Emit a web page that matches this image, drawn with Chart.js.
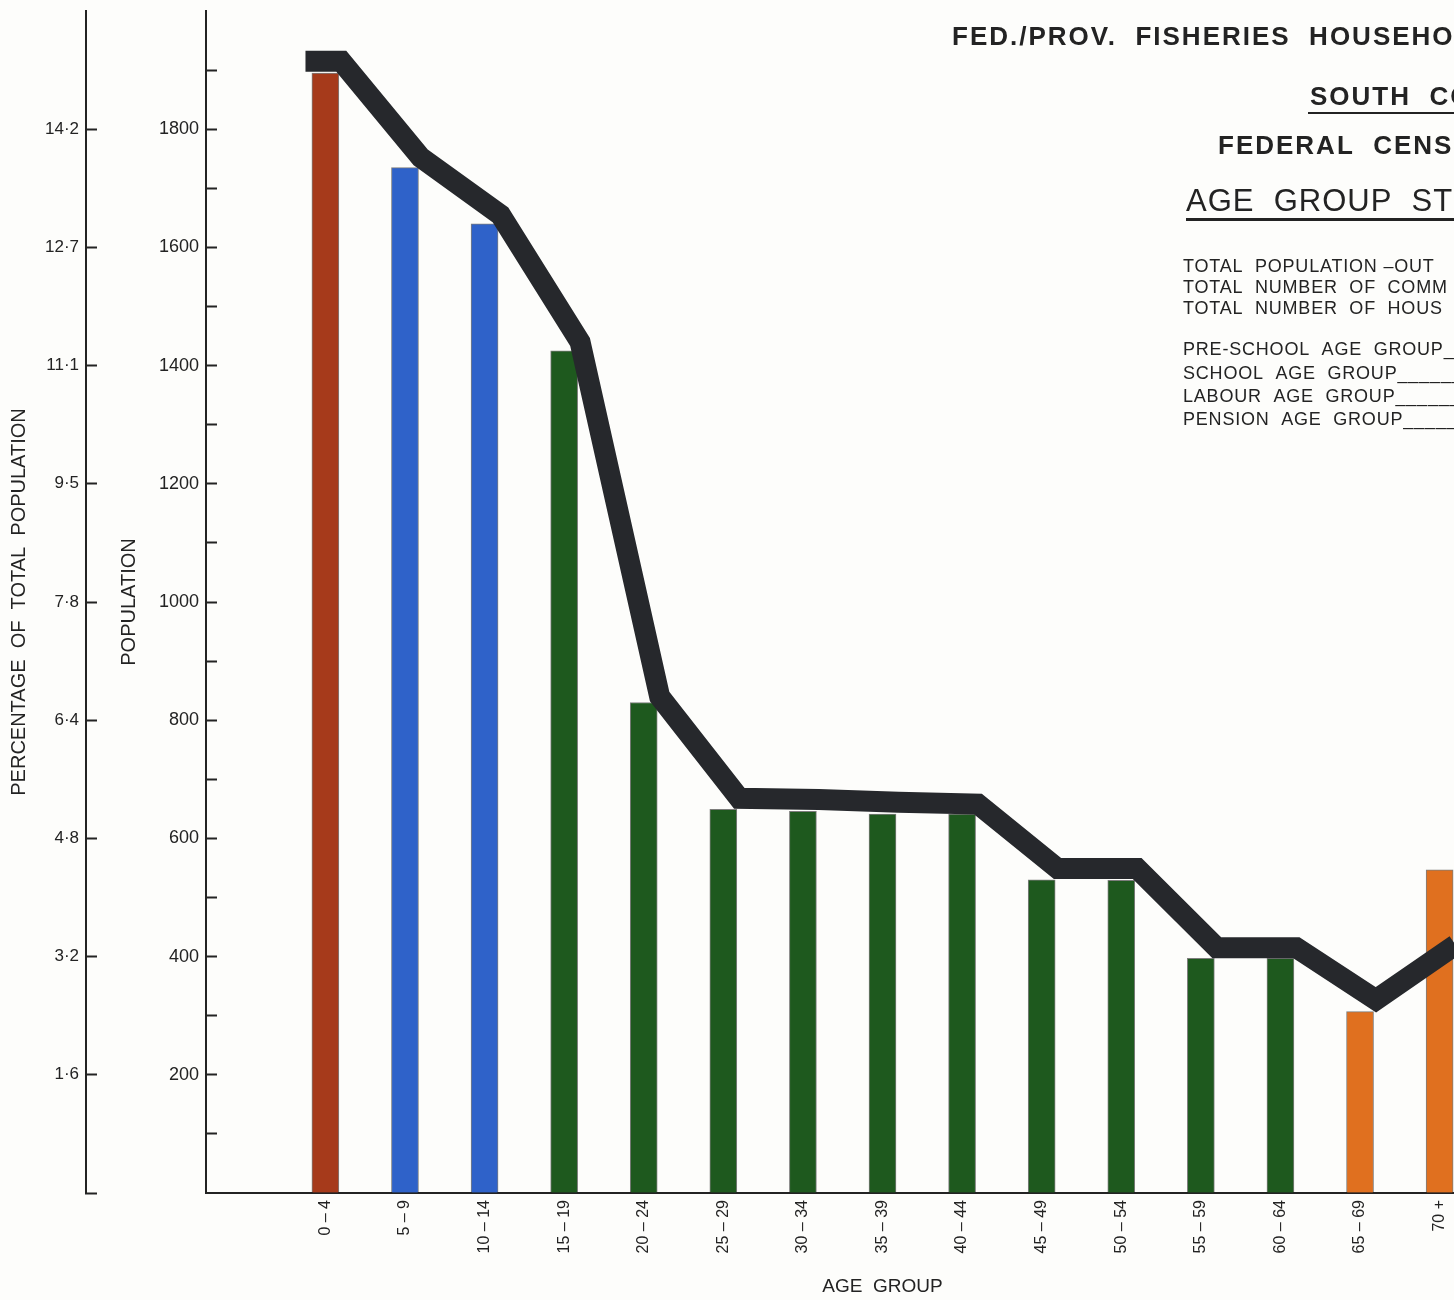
<!DOCTYPE html>
<html>
<head>
<meta charset="utf-8">
<title>Age Group Structure</title>
<script src="https://cdn.jsdelivr.net/npm/chart.js@4.4.1/dist/chart.umd.min.js"></script>
<style>
  html, body { margin: 0; padding: 0; background: #fdfdfb; overflow: hidden; }
  #wrap { width: 1600px; height: 1300px; }
</style>
</head>
<body>
<div id="wrap"><canvas id="ageChart" width="1600" height="1300"></canvas></div>
<script>
// Age group chart (population by 5-year group, with percentage scale)

const ageGroups = ['0 – 4', '5 – 9', '10 – 14', '15 – 19', '20 – 24', '25 – 29', '30 – 34',
  '35 – 39', '40 – 44', '45 – 49', '50 – 54', '55 – 59', '60 – 64', '65 – 69', '70 +'];
const population = [1895, 1735, 1640, 1425, 830, 649, 646, 641, 641, 530, 529, 397, 397, 307, 547];
const trendLine = [1915, 1752, 1655, 1440, 840, 668, 666, 661, 658, 549, 549, 415, 415, 327, 420];
const groupType = ['pre', 'school', 'school', 'labour', 'labour', 'labour', 'labour', 'labour',
  'labour', 'labour', 'labour', 'labour', 'labour', 'pension', 'pension'];
const popTickValues = [200, 400, 600, 800, 1000, 1200, 1400, 1600, 1800];
const pctTickLabels = ['1·6', '3·2', '4·8', '6·4', '7·8', '9·5', '11·1', '12·7', '14·2'];

const INK = '#232323';
const FONT = "'Liberation Sans', Arial, sans-serif";
const groupColors = {
  pre: '#a63a1b',
  school: '#2f62c9',
  labour: '#1e591e',
  pension: '#e0701f'
};

const BAR_HALF = 0.2;   // line vertices sit at the right shoulder of each bar
const LINE_START = 0.25;

const trendPoints = [{ x: -LINE_START, y: trendLine[0] }]
  .concat(trendLine.map((v, i) => ({ x: i + BAR_HALF, y: v })));

// no extra label padding above/below the vertical axes
const noVerticalPadding = (scale) => {
  scale.paddingTop = 0;
  scale.paddingBottom = 0;
};

// header lettering in the top right (cropped in the original)
const headerPlugin = {
  id: 'header',
  afterDraw(chart) {
    const ctx = chart.ctx;
    ctx.save();
    ctx.fillStyle = INK;
    ctx.textAlign = 'left';
    ctx.textBaseline = 'alphabetic';

    if ('letterSpacing' in ctx) ctx.letterSpacing = '2px';
    ctx.font = 'bold 26px ' + FONT;
    ctx.fillText('FED./PROV.  FISHERIES  HOUSEHO', 952, 45);
    ctx.fillText('SOUTH  CO', 1310, 105);
    ctx.fillRect(1308, 112, 160, 2);
    ctx.fillText('FEDERAL  CENS', 1218, 154);

    if ('letterSpacing' in ctx) ctx.letterSpacing = '1px';
    ctx.font = '31px ' + FONT;
    ctx.fillText('AGE  GROUP  ST', 1186, 211);
    ctx.fillRect(1186, 218, 280, 3);

    if ('letterSpacing' in ctx) ctx.letterSpacing = '0.8px';
    ctx.font = '18px ' + FONT;
    ctx.fillText('TOTAL  POPULATION –OUT', 1183, 272);
    ctx.fillText('TOTAL  NUMBER  OF  COMM', 1183, 293);
    ctx.fillText('TOTAL  NUMBER  OF  HOUS', 1183, 314);
    ctx.fillText('PRE-SCHOOL  AGE  GROUP________', 1183, 355);
    ctx.fillText('SCHOOL  AGE  GROUP____________', 1183, 379);
    ctx.fillText('LABOUR  AGE  GROUP____________', 1183, 402);
    ctx.fillText('PENSION  AGE  GROUP___________', 1183, 425);
    ctx.restore();
  }
};

const ctx = document.getElementById('ageChart').getContext('2d');

new Chart(ctx, {
  data: {
    datasets: [
      {
        type: 'line',
        label: 'Trend',
        data: trendPoints,
        borderColor: '#26282c',
        borderWidth: 21,
        borderJoinStyle: 'miter',
        borderCapStyle: 'butt',
        pointRadius: 0,
        tension: 0,
        yAxisID: 'y',
        order: 0
      },
      {
        type: 'bar',
        label: 'Population',
        data: population.map((v, i) => ({ x: i, y: v })),
        backgroundColor: groupType.map(g => groupColors[g]),
        borderColor: 'rgba(20, 20, 20, 0.55)',
        borderWidth: 1,
        barThickness: 27,
        yAxisID: 'y',
        order: 1
      }
    ]
  },
  plugins: [headerPlugin],
  options: {
    responsive: false,
    animation: false,
    layout: { padding: { top: 11, right: 41, bottom: 0, left: 0 } },
    plugins: {
      legend: { display: false },
      tooltip: { enabled: false }
    },
    scales: {
      x: {
        type: 'linear',
        min: -1.5,
        max: 15.5,
        offset: false,
        afterBuildTicks: (scale) => { scale.ticks = ageGroups.map((g, i) => ({ value: i })); },
        afterFit: (scale) => {
          scale.height = 107;
          scale.paddingLeft = 0;
          scale.paddingRight = 0;
        },
        grid: { display: false, offset: false, drawTicks: false },
        border: { display: true, color: INK, width: 2 },
        ticks: {
          autoSkip: false,
          minRotation: 90,
          maxRotation: 90,
          padding: 7,
          color: INK,
          font: { family: FONT, size: 16 },
          callback: (value) => ageGroups[value] || ''
        },
        title: {
          display: true,
          text: 'AGE  GROUP',
          color: INK,
          font: { family: FONT, size: 19 },
          padding: { top: 0, bottom: 2 }
        }
      },
      y: {
        type: 'linear',
        position: 'left',
        weight: 0,
        min: 0,
        max: 2000,
        afterFit: (scale) => {
          scale.width = 120;
          noVerticalPadding(scale);
        },
        grid: {
          display: true,
          drawOnChartArea: false,
          drawTicks: true,
          tickLength: -11,
          tickWidth: 2,
          tickColor: (c) => (c.tick && (c.tick.value === 0 || c.tick.value === 2000)) ? 'rgba(0,0,0,0)' : INK
        },
        border: { display: true, color: INK, width: 2 },
        ticks: {
          stepSize: 100,
          autoSkip: false,
          padding: 18,
          color: INK,
          font: { family: FONT, size: 18 },
          callback: (value) => popTickValues.includes(value) ? String(value) : ''
        },
        title: {
          display: true,
          text: 'POPULATION',
          color: INK,
          font: { family: FONT, size: 20 },
          padding: { top: 31, bottom: 0 }
        }
      },
      pct: {
        type: 'linear',
        position: 'left',
        weight: 1,
        min: 0,
        max: 2000,
        afterBuildTicks: (scale) => {
          scale.ticks = [0].concat(popTickValues).map(v => ({ value: v }));
        },
        afterFit: (scale) => {
          scale.width = 86;
          noVerticalPadding(scale);
        },
        grid: {
          display: true,
          drawOnChartArea: false,
          drawTicks: true,
          tickLength: -11,
          tickWidth: 2,
          tickColor: INK
        },
        border: { display: true, color: INK, width: 2 },
        ticks: {
          autoSkip: false,
          padding: 18,
          color: INK,
          font: { family: FONT, size: 17 },
          callback: (value) => {
            const i = popTickValues.indexOf(value);
            return i >= 0 ? pctTickLabels[i] : '';
          }
        },
        title: {
          display: true,
          text: 'PERCENTAGE  OF  TOTAL  POPULATION',
          color: INK,
          font: { family: FONT, size: 20 },
          padding: { top: 7, bottom: 0 }
        }
      }
    }
  }
});
</script>
</body>
</html>
